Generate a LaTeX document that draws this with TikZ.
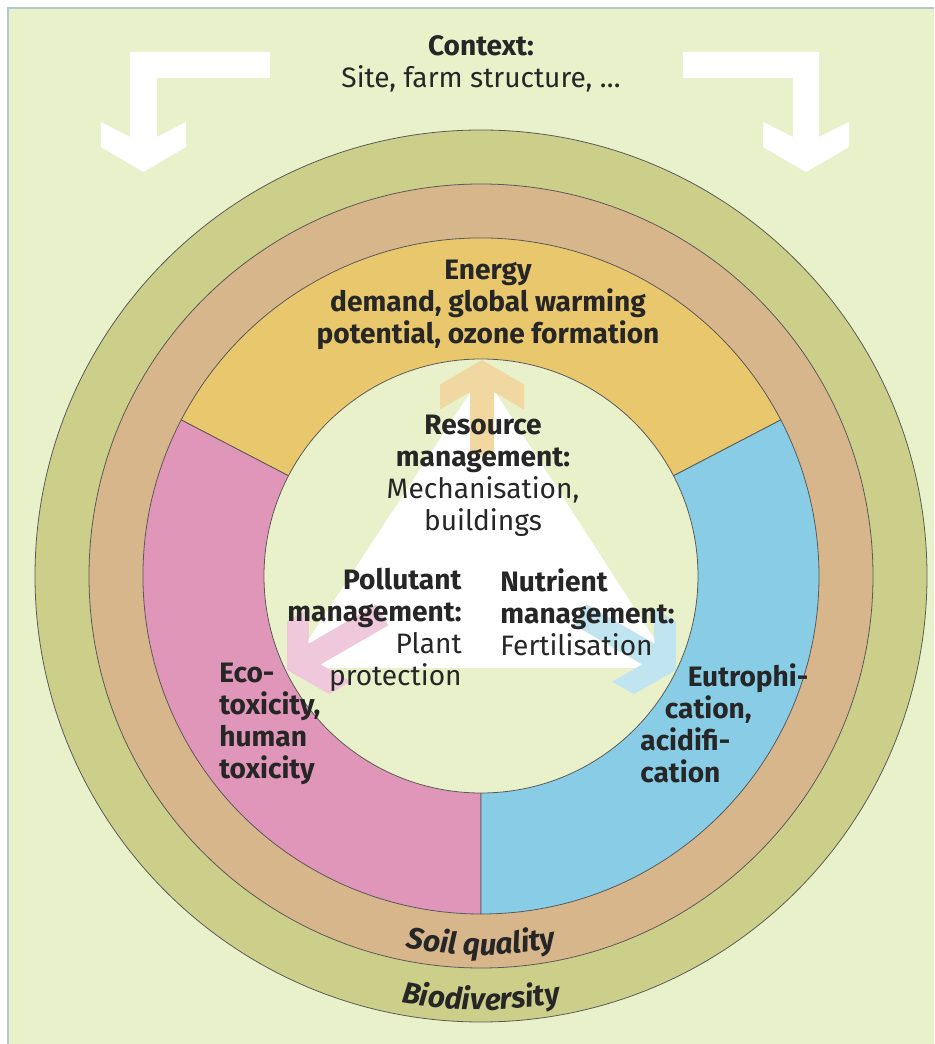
\documentclass[tikz,border=0pt]{standalone}
\usepackage{fontspec}
\setmainfont{Fira Sans}
\usetikzlibrary{decorations.text}

\definecolor{panel}{HTML}{E9F1CB}
\definecolor{framegray}{HTML}{B4C6C6}
\definecolor{biodiv}{HTML}{CCCF8A}
\definecolor{soil}{HTML}{D8B68C}
\definecolor{energy}{HTML}{E9C76C}
\definecolor{ecotox}{HTML}{E096B9}
\definecolor{eutroph}{HTML}{88CDE5}
\definecolor{energylight}{HTML}{F0D8A0}
\definecolor{ecotoxlight}{HTML}{F0C8DC}
\definecolor{eutrophlight}{HTML}{C0E4F0}

\begin{document}
\begin{tikzpicture}[x=0.02cm, y=0.02cm,
    ring/.style={draw=black!65, line width=0.45pt},
    txt/.style={font=\fontsize{16}{18.2}\selectfont, inner sep=0pt, text=black!85}]

    % panel
    \useasboundingbox (-481,-468) rectangle (453,576);
    \fill [white] (-481,-468) rectangle (453,576);
    \fill [panel] (-473,-468) rectangle (453,568);
    \draw [framegray, line width=1.1pt] (-473,-468) -- (-473,568) -- (453,568);

    % context arrows
    \fill [white] (-211,524) -- (-351,524) -- (-351,439) -- (-380,454) -- (-380,429) -- (-337.5,404)
        -- (-295,429) -- (-295,454) -- (-324,439) -- (-324,498) -- (-211,498) -- cycle;
    \fill [white] (202,524) -- (338,524) -- (338,439) -- (368,454) -- (368,429) -- (325,404)
        -- (282,429) -- (282,454) -- (312,439) -- (312,498) -- (202,498) -- cycle;
    \node [txt, align=center] (context) at (0,512) {\textbf{Context:}\\Site, farm structure, \dots};

    % rings
    \filldraw [ring, fill=biodiv] (0,0) circle [radius=446];
    \filldraw [ring, fill=soil] (0,0) circle [radius=392];

    \filldraw [ring, fill=energy] (0,0) -- (27.5:338) arc [start angle=27.5, end angle=152.5, radius=338] -- cycle;
    \filldraw [ring, fill=ecotox] (0,0) -- (152.5:338) arc [start angle=152.5, end angle=270, radius=338] -- cycle;
    \filldraw [ring, fill=eutroph] (0,0) -- (270:338) arc [start angle=270, end angle=387.5, radius=338] -- cycle;

    \filldraw [ring, fill=panel] (0,0) circle [radius=217];

    % management triangle
    \fill [white] (2,203) -- (-191,-92) -- (192,-92) -- cycle;

    \fill [energylight, shift={(1,216)}] (0,0) -- (-42,-24.5) -- (-42,-49.5) -- (-12,-32) -- (-12,-95)
        -- (12,-95) -- (12,-32) -- (42,-49.5) -- (42,-24.5) -- cycle;
    \fill [ecotoxlight, shift={(-194,-94)}, rotate=120] (0,0) -- (-42,-24.5) -- (-42,-49.5) -- (-12,-32) -- (-12,-110)
        -- (12,-110) -- (12,-32) -- (42,-49.5) -- (42,-24.5) -- cycle;
    \fill [eutrophlight, shift={(195,-94)}, rotate=-120] (0,0) -- (-42,-24.5) -- (-42,-49.5) -- (-12,-32) -- (-12,-110)
        -- (12,-110) -- (12,-32) -- (42,-49.5) -- (42,-24.5) -- cycle;

    % labels
    \node [txt, align=center, font=\fontsize{16}{18.2}\selectfont\bfseries] (energytext) at (7,271)
        {Energy\\demand, global warming\\potential, ozone formation};
    \node [txt, align=center] (resource) at (2,100)
        {\textbf{Resource}\\\textbf{management:}\\Mechanisation,\\buildings};
    \node [txt, align=right, anchor=north east] (pollutant) at (-19,8)
        {\textbf{Pollutant}\\\textbf{management:}\\Plant\\protection};
    \node [txt, align=left, anchor=north west] (nutrient) at (19,8)
        {\textbf{Nutrient}\\\textbf{management:}\\Fertilisation};
    \node [txt, align=left, anchor=north west, font=\fontsize{16}{18.2}\selectfont\bfseries] (ecotoxtext) at (-262,-87)
        {Eco-\\toxicity,\\human\\toxicity};
    \node [txt, align=left, anchor=north west, font=\fontsize{16}{18.2}\selectfont\bfseries] (eutrophtext) at (159,-87)
        {\hspace*{27pt}Eutrophi-\\\hspace*{14pt}cation,\\acidifi-\\cation};

    % curved ring labels
    \path [decorate, decoration={text along path, text align=center,
        text={|\fontsize{17}{20}\selectfont\bfseries\itshape\color{black!85}|Soil quality}}]
        (240:379) arc [start angle=240, end angle=300, radius=379];
    \path [decorate, decoration={text along path, text align=center,
        text={|\fontsize{17}{20}\selectfont\bfseries\itshape\color{black!85}|Biodiversity}}]
        (240:434) arc [start angle=240, end angle=300, radius=434];

\end{tikzpicture}
\end{document}
